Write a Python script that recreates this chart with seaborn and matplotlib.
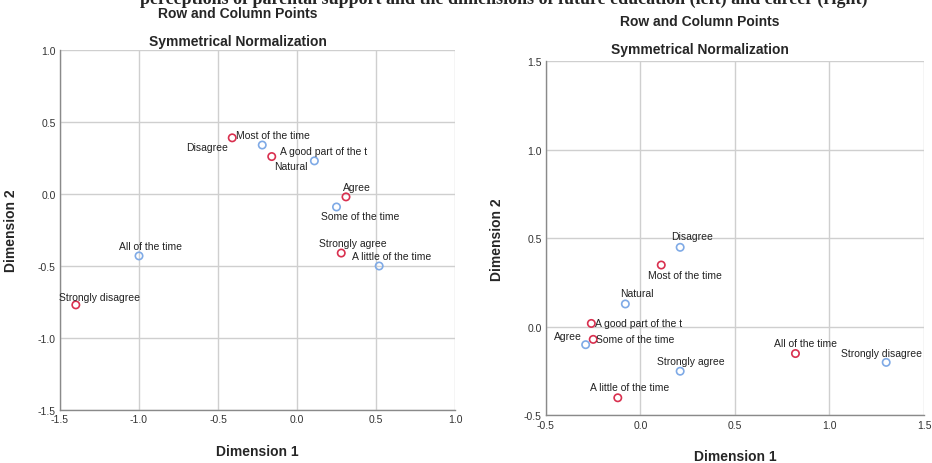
import numpy as np
import pandas as pd
import seaborn as sns
import matplotlib
matplotlib.use("Agg")
import matplotlib.pyplot as plt

# ------ data ------ #
agree_cats = ["Strongly disagree", "Disagree", "Natural", "Agree", "Strongly agree"]
time_cats = ["All of the time", "Most of the time", "A good part of the t",
             "Some of the time", "A little of the time"]

# left map: rows = agreement (red), columns = time (blue)
left_row_x = [-1.40, -0.41, -0.16, 0.31, 0.28]
left_row_y = [-0.77, 0.39, 0.26, -0.02, -0.41]
left_col_x = [-1.00, -0.22, 0.11, 0.25, 0.52]
left_col_y = [-0.43, 0.34, 0.23, -0.09, -0.50]

# right map: rows = time (red), columns = agreement (blue)
right_row_x = [0.82, 0.11, -0.26, -0.25, -0.12]
right_row_y = [-0.15, 0.35, 0.02, -0.07, -0.40]
right_col_x = [1.30, 0.21, -0.08, -0.29, 0.21]
right_col_y = [-0.20, 0.45, 0.13, -0.10, -0.25]

left_xticks = [-1.5, -1.0, -0.5, 0.0, 0.5, 1.0]
left_yticks = [-1.5, -1.0, -0.5, 0.0, 0.5, 1.0]
right_xticks = [-0.5, 0.0, 0.5, 1.0, 1.5]
right_yticks = [-0.5, 0.0, 0.5, 1.0, 1.5]

# label placement (pixel offsets, horizontal alignment)
left_row_lab = [(-17, 8, "left"), (-4, -9, "right"), (2, -9, "left"),
                (11, 10, "center"), (12, 10, "center")]
left_col_lab = [(11, 10, "center"), (-26, 10, "left"), (-34, 10, "left"),
                (24, -9, "center"), (12, 10, "center")]
right_row_lab = [(10, 11, "center"), (24, -10, "center"), (4, 0, "left"),
                 (3, 0, "left"), (12, 11, "center")]
right_col_lab = [(-5, 9, "center"), (12, 11, "center"), (12, 11, "center"),
                 (-4, 9, "right"), (11, 10, "center")]

RED = "#d9304f"
BLUE = "#7faae6"

sns.set_theme(style="white")
plt.rcParams["font.family"] = ["Liberation Sans", "DejaVu Sans"]

fig = plt.figure(figsize=(9.32, 4.64), dpi=100)
ax_l = fig.add_axes([0.0644, 0.1142, 0.4238, 0.7759])
ax_r = fig.add_axes([0.5858, 0.1024, 0.4056, 0.7630])


def draw_map(ax, row_x, row_y, row_names, col_x, col_y, col_names,
             row_lab, col_lab, xticks, yticks):
    df = pd.DataFrame({
        "x": list(row_x) + list(col_x),
        "y": list(row_y) + list(col_y),
        "kind": ["row"] * len(row_x) + ["col"] * len(col_x),
    })
    sns.scatterplot(data=df, x="x", y="y", hue="kind",
                    palette={"row": RED, "col": BLUE},
                    s=28, ax=ax, legend=False, zorder=3)
    # open circles like the SPSS output
    for coll in ax.collections:
        cols = coll.get_facecolors()
        coll.set_edgecolors(cols)
        coll.set_facecolors("none")
        coll.set_linewidth(1.2)

    for xs, ys, names, labs in [(row_x, row_y, row_names, row_lab),
                                (col_x, col_y, col_names, col_lab)]:
        for x, y, name, (dx, dy, ha) in zip(xs, ys, names, labs):
            ax.annotate(name, (x, y), xytext=(dx, dy), textcoords="offset pixels",
                        ha=ha, va="center", fontsize=7.5, color="#222222",
                        annotation_clip=False)

    ax.set_xlim(xticks[0], xticks[-1])
    ax.set_ylim(yticks[0], yticks[-1])
    ax.set_xticks(xticks)
    ax.set_yticks(yticks)
    ax.set_xticklabels([f"{t:.1f}" for t in xticks])
    ax.set_yticklabels([f"{t:.1f}" for t in yticks])
    ax.tick_params(labelsize=7.5, colors="#333333", length=0, pad=3)
    ax.grid(True, color="#cfcfcf", linewidth=1.0)
    ax.set_axisbelow(True)
    for side in ["top", "right"]:
        ax.spines[side].set_visible(False)
    for side in ["left", "bottom"]:
        ax.spines[side].set_color("#8a8a8a")
        ax.spines[side].set_linewidth(1.0)
    ax.set_xlabel("Dimension 1", fontsize=10, fontweight="bold", labelpad=14)
    ax.set_ylabel("Dimension 2", fontsize=10, fontweight="bold", labelpad=14)


draw_map(ax_l, left_row_x, left_row_y, agree_cats, left_col_x, left_col_y,
         time_cats, left_row_lab, left_col_lab, left_xticks, left_yticks)
draw_map(ax_r, right_row_x, right_row_y, time_cats, right_col_x, right_col_y,
         agree_cats, right_row_lab, right_col_lab, right_xticks, right_yticks)

# titles
fig.text(0.255, 1 - 14 / 464, "Row and Column Points", ha="center", va="center",
         fontsize=10, fontweight="bold")
fig.text(0.255, 1 - 42 / 464, "Symmetrical Normalization", ha="center", va="center",
         fontsize=10, fontweight="bold")
fig.text(0.751, 1 - 22 / 464, "Row and Column Points", ha="center", va="center",
         fontsize=10, fontweight="bold")
fig.text(0.751, 1 - 50 / 464, "Symmetrical Normalization", ha="center", va="center",
         fontsize=10, fontweight="bold")

# caption of the source figure, mostly cut off by the top edge
fig.text(868 / 932, 1 - 3.5 / 464,
         "perceptions of parental support and the dimensions of future education (left) and career (right)",
         ha="right", va="baseline", fontsize=13, fontweight="bold",
         family=["Liberation Serif", "DejaVu Serif"])

fig.savefig("out.png", dpi=100)
